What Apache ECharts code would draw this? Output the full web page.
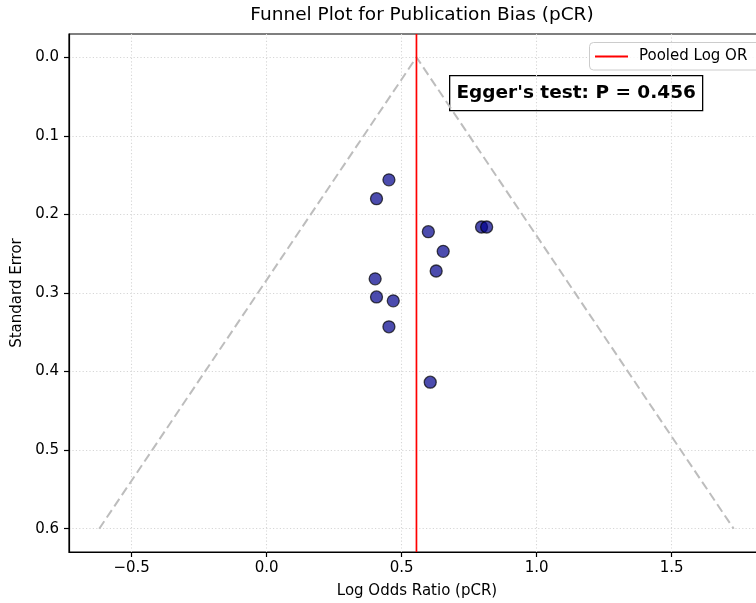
<!DOCTYPE html>
<html>
<head>
<meta charset="utf-8">
<script src="https://cdn.jsdelivr.net/npm/echarts@6/dist/echarts.min.js"></script>
<style>
  html, body { margin: 0; padding: 0; background: #fff; }
  #chart { width: 756px; height: 603px; }
</style>
</head>
<body>
<div id="chart"></div>
<script>
// Study-level estimates: log odds ratio of pCR and its standard error
const studyLogOR = [0.453, 0.407, 0.599, 0.796, 0.815, 0.654, 0.628, 0.402, 0.407, 0.469, 0.453, 0.606];
const studySE    = [0.156, 0.180, 0.222, 0.216, 0.216, 0.247, 0.272, 0.282, 0.305, 0.310, 0.343, 0.4135];

// Pooled estimate and the 95% pseudo-confidence funnel around it
const pooledLogOR = 0.555;
const funnelX  = [-0.62, 0.555, 1.73];
const funnelSE = [0.6, 0, 0.6];

// Axis ticks
const xTicks = [-0.5, 0.0, 0.5, 1.0, 1.5];
const yTicks = [0.0, 0.1, 0.2, 0.3, 0.4, 0.5, 0.6];

const eggerText = "Egger's test: P = 0.456";

const X_MIN = -0.732, X_MAX = 1.846;
const Y_MIN = -0.0296, Y_MAX = 0.6296;

const FONT = '"DejaVu Sans", "Liberation Sans", sans-serif';
const fmt = v => v.toFixed(1).replace('-', '\u2212');

const chart = echarts.init(document.getElementById('chart'), null, { renderer: 'canvas' });

const gridLine = { show: true, lineStyle: { color: '#d6d6d6', width: 1.1, type: [1.2, 2.2] } };

chart.setOption({
  backgroundColor: '#ffffff',
  animation: false,
  title: {
    text: 'Funnel Plot for Publication Bias (pCR)',
    left: 417,
    textAlign: 'center',
    top: 1,
    textStyle: { fontFamily: FONT, fontSize: 18.5, fontWeight: 'normal', color: '#000' }
  },
  legend: {
    data: [{ name: 'Pooled Log OR', itemStyle: { opacity: 0 } }],
    left: 589,
    top: 42,
    orient: 'vertical',
    padding: [7, 5, 7, 5],
    itemWidth: 33,
    itemHeight: 14,
    z: 20,
    textStyle: { fontFamily: FONT, fontSize: 15, color: '#000', padding: [0, 0, 0, 6] }
  },
  grid: {
    left: 69, top: 34, right: -9, bottom: 51,
    show: true, borderColor: '#000', borderWidth: 1.2,
    outerBoundsMode: 'none',
    containLabel: false
  },
  xAxis: {
    type: 'value',
    min: X_MIN, max: X_MAX,
    name: 'Log Odds Ratio (pCR)',
    nameLocation: 'middle',
    nameGap: 32,
    nameTextStyle: { fontFamily: FONT, fontSize: 15, color: '#000' },
    axisLine: { show: true, onZero: false, lineStyle: { color: '#000', width: 1.2 } },
    axisTick: { show: true, inside: false, length: 5, lineStyle: { color: '#000', width: 1.2 }, customValues: xTicks },
    axisLabel: { show: true, margin: 9, fontFamily: FONT, fontSize: 15, color: '#000', formatter: fmt, customValues: xTicks },
    splitLine: gridLine
  },
  yAxis: {
    type: 'value',
    inverse: true,
    min: Y_MIN, max: Y_MAX,
    name: 'Standard Error',
    nameLocation: 'middle',
    nameGap: 41,
    nameTextStyle: { fontFamily: FONT, fontSize: 15, color: '#000' },
    axisLine: { show: true, onZero: false, lineStyle: { color: '#000', width: 1.2 } },
    axisTick: { show: true, inside: false, length: 5, lineStyle: { color: '#000', width: 1.2 }, customValues: yTicks },
    axisLabel: { show: true, margin: 10, fontFamily: FONT, fontSize: 15, color: '#000', formatter: fmt, customValues: yTicks },
    splitLine: gridLine
  },
  graphic: [
    {
      // legend frame, running past the right edge of the canvas
      type: 'rect',
      left: 589,
      top: 42,
      z: 19,
      shape: { x: 0, y: 0, width: 200, height: 27.5, r: 4 },
      style: { fill: 'rgba(255,255,255,0.8)', stroke: '#cccccc', lineWidth: 1 }
    },
    {
      type: 'group',
      left: 449,
      top: 75,
      z: 100,
      children: [
        {
          type: 'rect',
          shape: { x: 0, y: 0, width: 253, height: 35 },
          style: { fill: '#ffffff', stroke: '#000000', lineWidth: 1.3 }
        },
        {
          type: 'text',
          x: 126.5,
          y: 17.5,
          style: {
            text: eggerText,
            font: 'bold 18.5px ' + FONT,
            fill: '#000',
            align: 'center',
            verticalAlign: 'middle'
          }
        }
      ]
    }
  ],
  series: [
    {
      name: 'Funnel',
      type: 'line',
      data: funnelX.map((x, i) => [x, funnelSE[i]]),
      symbol: 'none',
      lineStyle: { color: '#bdbdbd', width: 2, type: [9, 4.5] },
      z: 2,
      silent: true
    },
    {
      name: 'Pooled Log OR',
      type: 'line',
      data: [[pooledLogOR, Y_MIN], [pooledLogOR, Y_MAX]],
      symbol: 'none',
      showSymbol: false,
      lineStyle: { color: '#ff0000', width: 1.7 },
      itemStyle: { color: '#ff0000' },
      z: 3
    },
    {
      name: 'Studies',
      type: 'scatter',
      data: studyLogOR.map((x, i) => [x, studySE[i]]),
      symbol: 'circle',
      symbolSize: 12,
      itemStyle: { color: '#00008b', borderColor: '#000000', borderWidth: 1.3, opacity: 0.7 },
      z: 4
    }
  ]
});
</script>
</body>
</html>
